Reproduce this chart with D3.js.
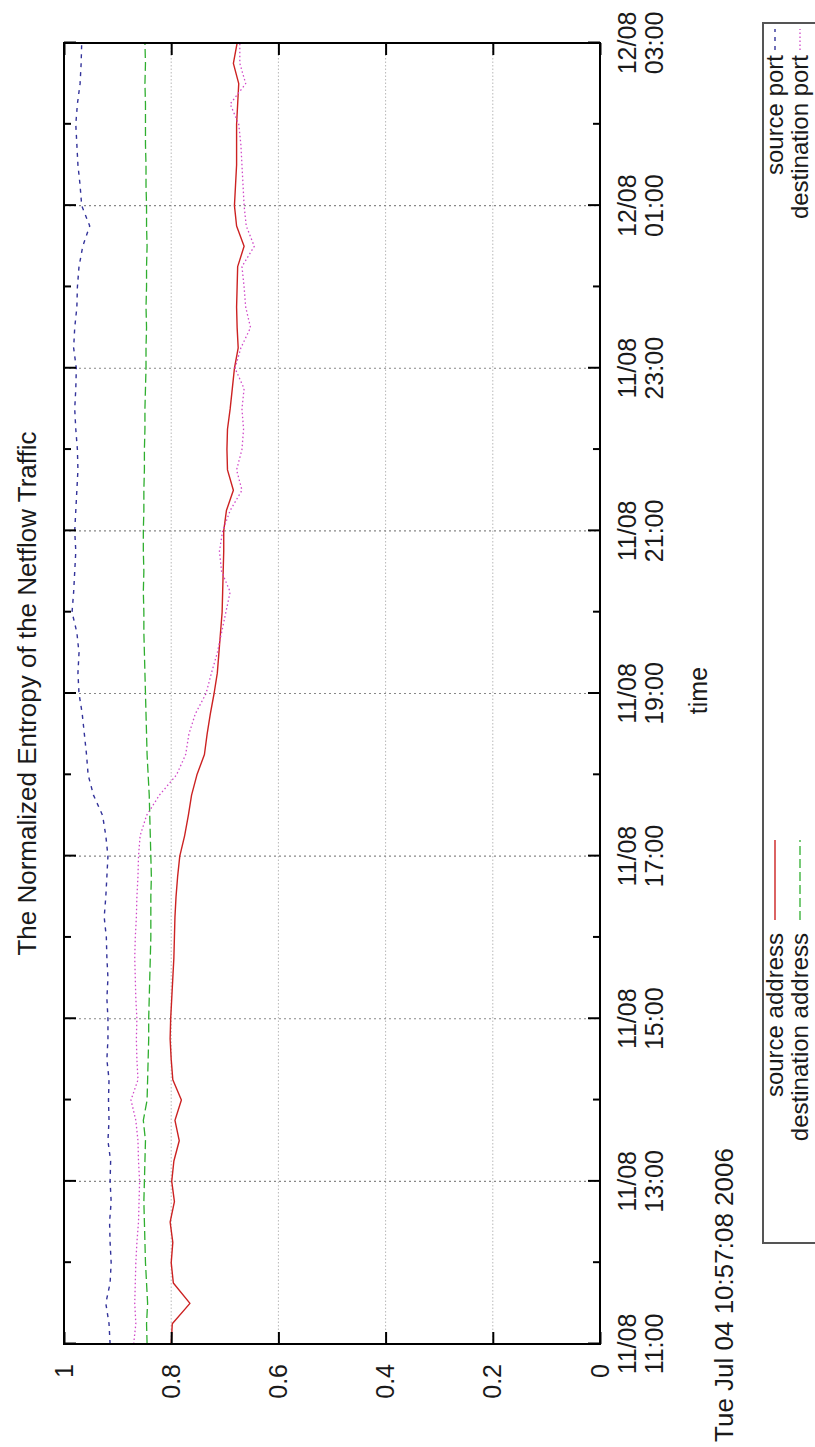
<!DOCTYPE html>
<html><head><meta charset="utf-8">
<script src="https://cdn.jsdelivr.net/npm/d3@7"></script>
<style>
html,body{margin:0;padding:0;background:#fff;}
text{font-family:"Liberation Sans",Arial,Helvetica,sans-serif;fill:#1a1a1a;}
</style></head>
<body>
<svg id="chart" width="815" height="1447"></svg>
<script>
// ---- data (15-minute samples starting 11/08 11:00) ----
const startTime = new Date(2006, 7, 11, 11, 0);
const stepMinutes = 15;
const sourceAddress = [0.800,0.798,0.765,0.796,0.800,0.797,0.802,0.794,0.799,0.795,0.785,0.793,0.781,0.797,0.800,0.802,0.801,0.799,0.797,0.795,0.794,0.793,0.791,0.788,0.784,0.775,0.768,0.762,0.752,0.738,0.733,0.727,0.720,0.714,0.711,0.708,0.705,0.704,0.703,0.702,0.702,0.697,0.684,0.695,0.696,0.695,0.690,0.686,0.682,0.675,0.677,0.678,0.677,0.676,0.664,0.678,0.682,0.680,0.678,0.678,0.678,0.676,0.674,0.684,0.677];
const destinationAddress = [0.845,0.846,0.844,0.846,0.848,0.849,0.850,0.851,0.850,0.849,0.848,0.852,0.845,0.844,0.843,0.842,0.842,0.841,0.840,0.839,0.838,0.838,0.838,0.837,0.838,0.839,0.840,0.841,0.843,0.845,0.846,0.847,0.848,0.849,0.850,0.851,0.851,0.852,0.851,0.852,0.852,0.851,0.851,0.850,0.850,0.849,0.849,0.848,0.847,0.847,0.846,0.847,0.846,0.846,0.845,0.846,0.846,0.847,0.847,0.848,0.848,0.848,0.849,0.848,0.849];
const sourcePort = [0.914,0.916,0.922,0.914,0.912,0.914,0.915,0.912,0.914,0.913,0.918,0.916,0.917,0.916,0.920,0.918,0.918,0.920,0.918,0.920,0.921,0.925,0.922,0.920,0.918,0.922,0.928,0.945,0.955,0.958,0.962,0.966,0.972,0.974,0.972,0.976,0.985,0.982,0.980,0.978,0.980,0.978,0.976,0.974,0.975,0.978,0.980,0.978,0.977,0.982,0.980,0.976,0.975,0.972,0.965,0.952,0.967,0.970,0.974,0.976,0.978,0.975,0.970,0.968,0.967];
const destinationPort = [0.870,0.866,0.868,0.867,0.866,0.864,0.861,0.860,0.859,0.861,0.862,0.866,0.875,0.862,0.864,0.865,0.864,0.866,0.867,0.868,0.867,0.865,0.864,0.862,0.861,0.858,0.846,0.822,0.790,0.773,0.767,0.755,0.735,0.725,0.714,0.706,0.698,0.690,0.706,0.710,0.704,0.690,0.668,0.678,0.668,0.665,0.668,0.664,0.681,0.670,0.652,0.661,0.664,0.668,0.645,0.660,0.664,0.666,0.668,0.670,0.674,0.690,0.661,0.672,0.672];
const seriesNames = ["source address","destination address","source port","destination port"];
const timeTickLabels = ["11/08 11:00","11/08 13:00","11/08 15:00","11/08 17:00","11/08 19:00","11/08 21:00","11/08 23:00","12/08 01:00","12/08 03:00"];
const valueTicks = [0,0.2,0.4,0.6,0.8,1];
const valueTickLabels = ["0","0.2","0.4","0.6","0.8","1"];
const titleText = "The Normalized Entropy of the Netflow Traffic";
const xLabelText = "time";
const stampText = "Tue Jul 04 10:57:08 2006";

// ---- layout (unrotated landscape frame 1447 x 815) ----
const W = 1447, H = 815;
const m = {left:103, right:1404, top:64, bottom:600};
const FS = 25;
const styles = [
  {color:"#cc2222", dash:null, w:1.4},
  {color:"#2fae2f", dash:"9,4", w:1.3},
  {color:"#33339a", dash:"4,5", w:1.4},
  {color:"#d048c8", dash:"1.5,2.5", w:1.3}
];
const allSeries = [sourceAddress, destinationAddress, sourcePort, destinationPort];

const parseTick = d3.timeParse("%d/%m/%Y %H:%M");
const tickDates = timeTickLabels.map(s => { const p = s.split(" "); return parseTick(p[0]+"/2006 "+p[1]); });

const x = d3.scaleTime().domain([tickDates[0], tickDates[tickDates.length-1]]).range([m.left, m.right]);
const y = d3.scaleLinear().domain([0,1]).range([m.bottom, m.top]);

const svg = d3.select("#chart");
svg.append("rect").attr("width",815).attr("height",1447).attr("fill","#fff");
const g = svg.append("g").attr("transform", `translate(0,${W}) rotate(-90)`);

// grid
const grid = g.append("g");
grid.selectAll("line.vg").data(valueTicks.filter(v => v>0 && v<1)).enter().append("line")
  .attr("x1", m.left).attr("x2", m.right).attr("y1", d=>y(d)).attr("y2", d=>y(d))
  .attr("stroke","#b8b8b8").attr("stroke-width",1).attr("stroke-dasharray","1.5,2");
grid.selectAll("line.tg").data(tickDates.slice(1,-1)).enter().append("line")
  .attr("x1", d=>x(d)).attr("x2", d=>x(d)).attr("y1", m.top).attr("y2", m.bottom)
  .attr("stroke","#888").attr("stroke-width",1.2).attr("stroke-dasharray","2,3");

// lines
const clip = g.append("clipPath").attr("id","pc").append("rect")
  .attr("x",m.left).attr("y",m.top).attr("width",m.right-m.left).attr("height",m.bottom-m.top);
const line = d3.line().x((d,i)=>x(d3.timeMinute.offset(startTime, i*stepMinutes))).y(d=>y(d));
const lines = g.append("g").attr("clip-path","url(#pc)");
allSeries.forEach((s,k)=>{
  lines.append("path").attr("d", line(s)).attr("fill","none")
    .attr("stroke", styles[k].color).attr("stroke-width", styles[k].w)
    .attr("stroke-dasharray", styles[k].dash).attr("stroke-linejoin","round");
});

// axes (ticks inward)
const minorDates = x.ticks(d3.timeHour.every(1)).filter(d => !tickDates.some(t => +t === +d));
function styleAxis(sel){ sel.select(".domain").remove(); sel.selectAll("line").attr("stroke","#000").attr("stroke-width",2); }
g.append("g").attr("transform",`translate(0,${m.bottom})`)
  .call(d3.axisBottom(x).tickValues(tickDates).tickSize(-12).tickFormat("")).call(styleAxis);
g.append("g").attr("transform",`translate(0,${m.bottom})`)
  .call(d3.axisBottom(x).tickValues(minorDates).tickSize(-7).tickFormat("")).call(styleAxis);
g.append("g").attr("transform",`translate(0,${m.top})`)
  .call(d3.axisTop(x).tickValues(tickDates).tickSize(-12).tickFormat("")).call(styleAxis);
g.append("g").attr("transform",`translate(0,${m.top})`)
  .call(d3.axisTop(x).tickValues(minorDates).tickSize(-7).tickFormat("")).call(styleAxis);
const yl = g.append("g").attr("transform",`translate(${m.left},0)`)
  .call(d3.axisLeft(y).tickValues(valueTicks).tickSize(-12).tickPadding(20).tickFormat((d,i)=>valueTickLabels[i]))
  .call(styleAxis);
yl.selectAll("text").attr("font-size",FS).attr("fill","#1a1a1a").attr("font-family","Liberation Sans, Arial, sans-serif");
g.append("g").attr("transform",`translate(${m.right},0)`)
  .call(d3.axisRight(y).tickValues(valueTicks).tickSize(-12).tickFormat("")).call(styleAxis);

// time tick labels (two lines)
const tl = g.append("g");
tickDates.forEach((d,i)=>{
  const parts = timeTickLabels[i].split(" ");
  const t = tl.append("text").attr("text-anchor","middle").attr("font-size",FS);
  t.append("tspan").attr("x", x(d)).attr("y", 636).text(parts[0]);
  t.append("tspan").attr("x", x(d)).attr("y", 663).text(parts[1]);
});

// border
g.append("rect").attr("x",m.left).attr("y",m.top).attr("width",m.right-m.left).attr("height",m.bottom-m.top)
  .attr("fill","none").attr("stroke","#000").attr("stroke-width",2);

// titles
g.append("text").attr("x",(m.left+m.right)/2).attr("y",36).attr("text-anchor","middle").attr("font-size",FS+1).text(titleText);
g.append("text").attr("x",(m.left+m.right)/2+3).attr("y",707).attr("text-anchor","middle").attr("font-size",FS).text(xLabelText);
g.append("text").attr("x",5).attr("y",733).attr("font-size",FS+1).text(stampText);

// legend
g.append("rect").attr("x",204).attr("y",763).attr("width",1424-204).attr("height",120)
  .attr("fill","none").attr("stroke","#555").attr("stroke-width",2);
const legendCols = [{textEnd:514, s0:527, s1:607},{textEnd:1392, s0:1397, s1:1418}];
const legendRows = [775, 800];
seriesNames.forEach((name,k)=>{
  const c = legendCols[Math.floor(k/2)], r = legendRows[k%2];
  g.append("text").attr("x",c.textEnd).attr("y",r+8).attr("text-anchor","end").attr("font-size",FS-1).text(name);
  g.append("line").attr("x1",c.s0).attr("x2",c.s1).attr("y1",r).attr("y2",r)
    .attr("stroke",styles[k].color).attr("stroke-width",styles[k].w).attr("stroke-dasharray",styles[k].dash);
});
</script>
</body></html>
